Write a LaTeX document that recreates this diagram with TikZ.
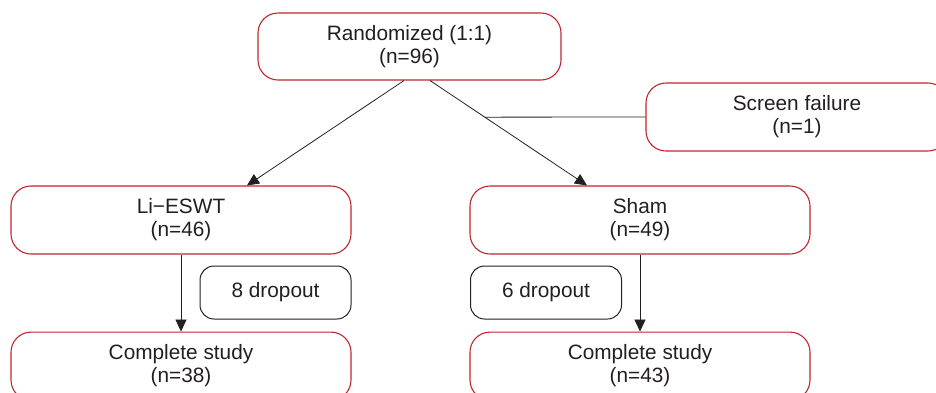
\documentclass[tikz,border=0pt]{standalone}
\usepackage{fontspec}
\setmainfont{Liberation Sans}
\usetikzlibrary{arrows.meta,positioning}
\definecolor{boxred}{HTML}{C0272D}
\definecolor{inkgrey}{HTML}{231F20}
\begin{document}
\begin{tikzpicture}[
  x=1pt, y=-1pt,
  block/.style={rectangle, rounded corners=20pt, draw=boxred, line width=1.1pt, minimum width=340pt, minimum height=68pt, inner sep=0pt, align=center, text=inkgrey},
  dropbox/.style={rectangle, rounded corners=14pt, draw=inkgrey, line width=1pt, minimum width=151pt, minimum height=53pt, inner sep=0pt, text=inkgrey},
  >={Triangle[length=12pt,width=11pt]},
  font=\fontsize{20.8}{23}\selectfont
]
\clip (0,0) rectangle (936,392);
\node[block, minimum width=303pt, minimum height=67pt] (rand) at (409.5,46.5) {Randomized (1:1)\\(n=96)};
\node[block, minimum width=302pt] (screen) at (797,117) {Screen failure\\(n=1)};
\node[block] (li) at (181,220) {Li−ESWT\\(n=46)};
\node[block] (sham) at (640,220) {Sham\\(n=49)};
\node[block, below=77pt of li] (lidone) {Complete study\\(n=38)};
\node[block, below=77pt of sham] (shamdone) {Complete study\\(n=43)};
\node[dropbox] (lidrop) at (275.5,292.5) {8 dropout};
\node[dropbox] (shamdrop) at (546,292.5) {6 dropout};

\draw[->,thick,inkgrey] ([xshift=-5.5pt]rand.south) -- ([xshift=66pt]li.north);
\draw[->,thick,inkgrey] ([xshift=20.5pt]rand.south) -- coordinate[pos=0.349] (split) ([xshift=-53pt]sham.north);
\draw[thick,inkgrey] (screen.west) -- (split);
\draw[->,thick,inkgrey] (li) -- (lidone);
\draw[->,thick,inkgrey] (sham) -- (shamdone);
\end{tikzpicture}
\end{document}
